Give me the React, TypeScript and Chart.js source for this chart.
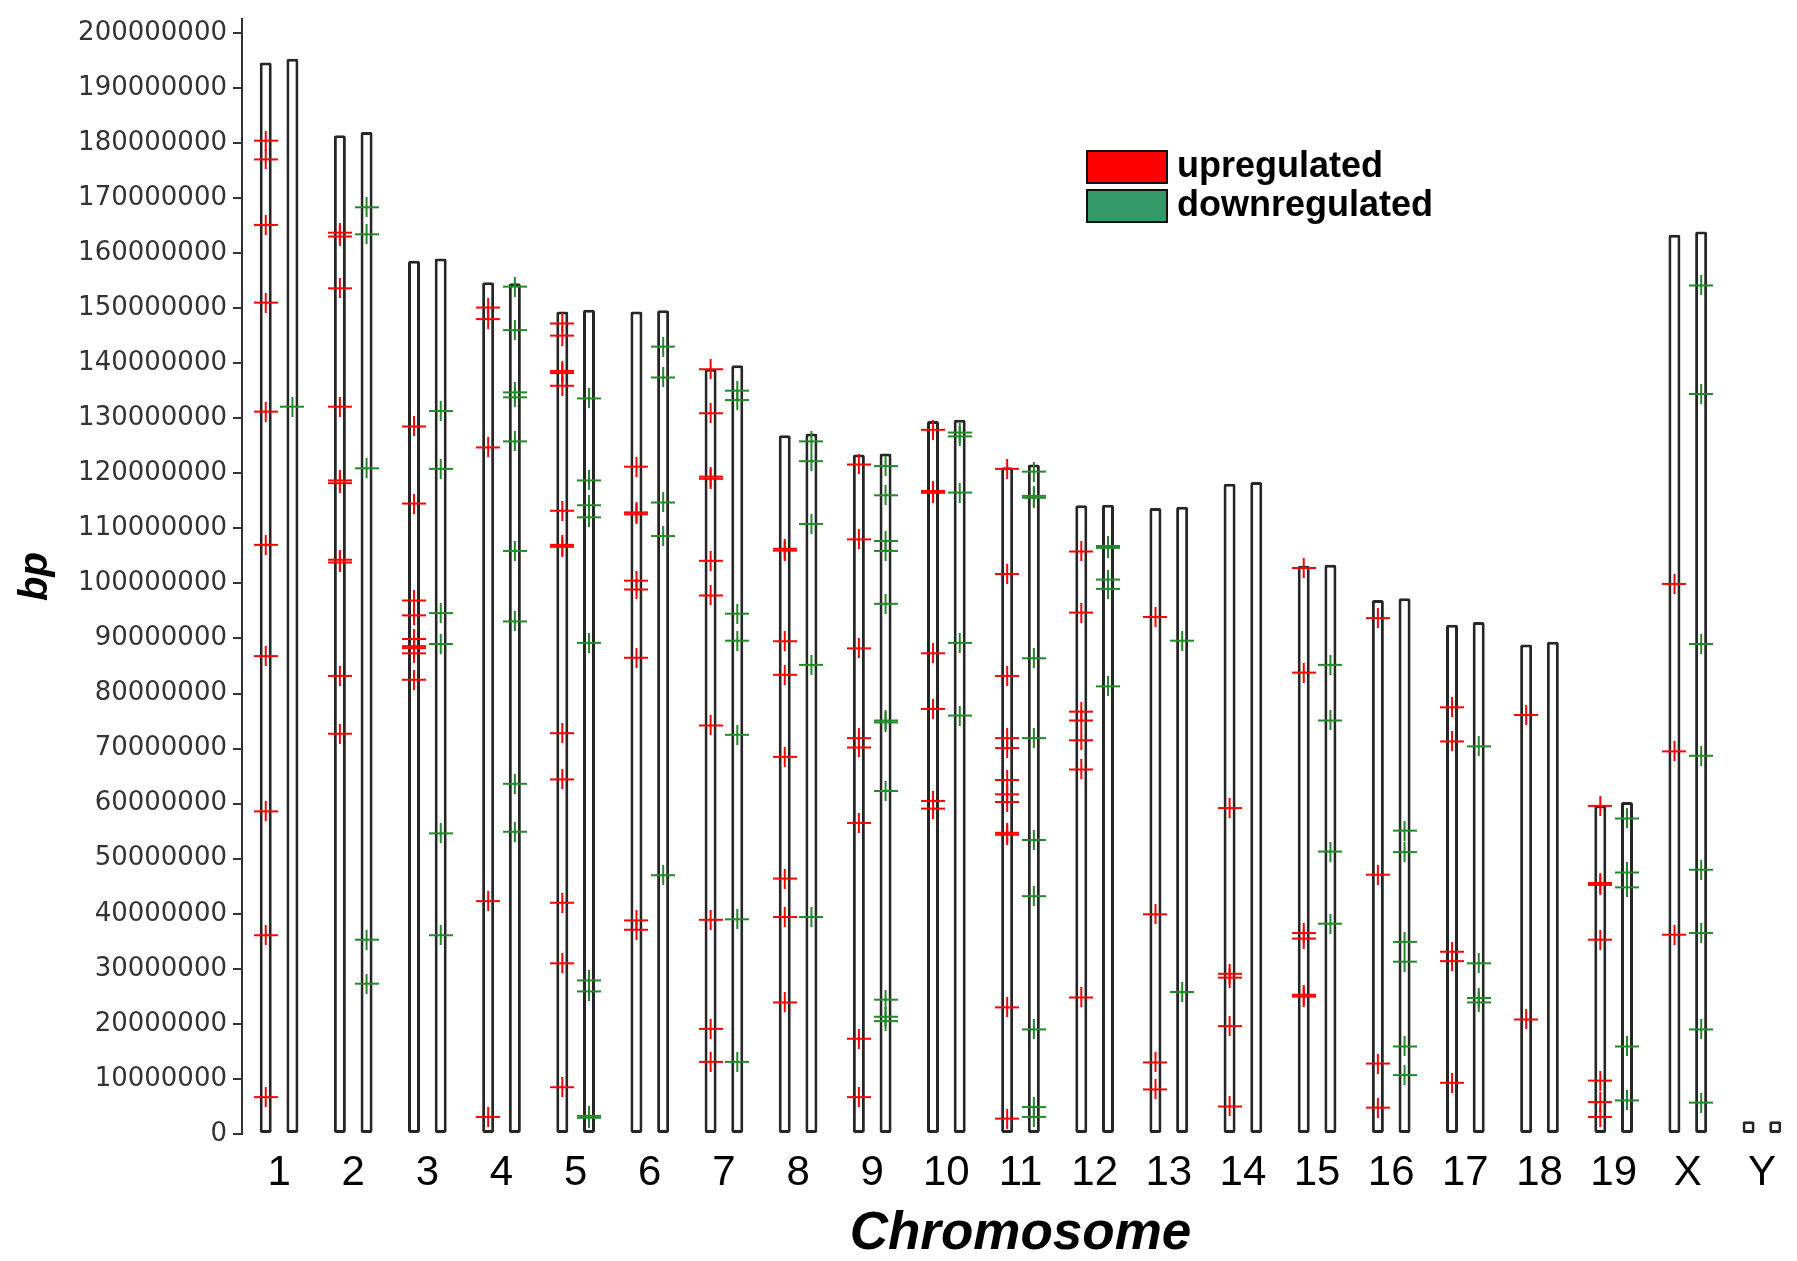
import React, { useEffect, useRef } from 'react';
import { Chart, registerables } from 'chart.js';

Chart.register(...registerables);

// ---------------- data ----------------
const chromosomes = ['1', '2', '3', '4', '5', '6', '7', '8', '9', '10', '11', '12', '13', '14', '15', '16', '17', '18', '19', 'X', 'Y'];

// chromosome lengths (Mb) drawn as the left (upregulated) and right (downregulated) bars
const upLengthMb = [194.6, 181.4, 158.6, 154.7, 149.4, 149.4, 139.0, 126.9, 123.4, 129.5, 121.1, 114.2, 113.7, 118.1, 103.2, 97.0, 92.5, 88.9, 59.7, 163.3, 2.3];
const downLengthMb = [195.3, 182.0, 159.0, 154.5, 149.7, 149.6, 139.6, 127.2, 123.6, 129.7, 121.6, 114.3, 113.9, 118.4, 103.4, 97.3, 93.0, 89.4, 60.3, 163.9, 2.3];

// gene positions (Mb), one list per chromosome
const upMarkersMb: number[][] = [
  [180.4, 177.0, 165.1, 151.0, 131.2, 107.0, 86.8, 58.6, 36.1, 6.7],
  [163.7, 163.0, 153.6, 132.1, 118.7, 118.2, 104.3, 103.8, 83.2, 72.7],
  [128.5, 114.5, 96.9, 94.2, 89.9, 88.6, 88.25, 87.3, 82.5],
  [150.1, 148.0, 124.7, 42.3, 3.1],
  [147.2, 145.0, 138.6, 138.2, 135.9, 113.2, 107.0, 106.65, 72.8, 64.4, 42.0, 31.0, 8.5],
  [121.2, 112.9, 112.55, 100.5, 98.9, 86.5, 38.8, 37.1],
  [138.9, 130.9, 119.4, 119.0, 104.1, 97.8, 74.2, 38.9, 19.1, 13.1],
  [106.3, 105.95, 89.5, 83.4, 68.5, 46.4, 39.4, 23.9],
  [121.6, 108.0, 88.2, 71.9, 70.2, 56.5, 17.3, 6.7],
  [127.9, 116.8, 116.45, 87.3, 77.2, 60.5, 59.1],
  [120.8, 101.7, 83.2, 71.9, 70.1, 64.3, 61.7, 60.3, 54.7, 54.35, 23.0, 2.8],
  [105.8, 94.7, 76.7, 75.1, 71.5, 66.2, 24.8],
  [93.9, 39.9, 13.0, 8.1],
  [59.2, 29.1, 28.4, 19.6, 5.0],
  [102.8, 83.8, 36.5, 35.5, 25.3, 24.95],
  [93.7, 47.1, 12.8, 4.8],
  [77.5, 71.3, 33.1, 31.4, 9.3],
  [76.1, 20.8],
  [59.6, 45.6, 45.25, 35.3, 9.7, 5.8, 3.1],
  [99.9, 69.5, 36.2],
  [],
];

const downMarkersMb: number[][] = [
  [132.1],
  [168.3, 163.4, 120.9, 35.3, 27.3],
  [131.3, 120.8, 94.6, 89.0, 54.6, 36.1],
  [153.9, 146.0, 134.7, 133.8, 125.8, 105.9, 93.1, 63.6, 54.9],
  [133.6, 118.7, 114.2, 112.0, 89.2, 27.9, 25.9, 3.3, 2.95],
  [143.0, 137.4, 114.7, 108.6, 47.0],
  [135.0, 133.3, 94.5, 89.6, 72.5, 39.0, 13.1],
  [125.8, 122.2, 110.8, 85.2, 39.4],
  [121.3, 116.0, 107.7, 105.9, 96.3, 75.1, 74.75, 62.3, 24.4, 21.3, 20.5],
  [127.4, 126.7, 116.5, 89.2, 76.0],
  [120.3, 115.9, 115.55, 86.4, 71.9, 53.4, 43.2, 19.0, 4.9, 3.1],
  [106.8, 106.45, 100.7, 99.0, 81.3],
  [89.6, 25.8],
  [],
  [85.2, 75.1, 51.3, 38.2],
  [55.1, 51.2, 34.9, 31.3, 15.9, 10.7],
  [70.4, 31.0, 24.7, 23.9],
  [],
  [57.3, 47.5, 44.8, 15.9, 6.1],
  [154.1, 134.4, 89.0, 68.7, 48.0, 36.5, 19.0, 5.7],
  [],
];

// y-axis ticks (bp)
const yTickValues = [
  0, 10000000, 20000000, 30000000, 40000000, 50000000, 60000000, 70000000, 80000000, 90000000, 100000000,
  110000000, 120000000, 130000000, 140000000, 150000000, 160000000, 170000000, 180000000, 190000000, 200000000,
];

const seriesNames = ['upregulated', 'downregulated'];
const markerColors = ['#ff0000', '#1f8a26'];
const legendColors = ['#ff0000', '#339966'];

const MB = 1000000;
const Y_MAX_BP = 202500000;

// ---------------- layout / style ----------------
const CATEGORY_PCT = 0.72;
const PAIR_OFFSET = CATEGORY_PCT / 4; // centre of each bar of a pair, in category units

function makeCross(color: string): HTMLCanvasElement {
  const c = document.createElement('canvas');
  c.width = 24;
  c.height = 20;
  const g = c.getContext('2d');
  if (g) {
    g.fillStyle = color;
    g.fillRect(0, 9, 24, 2);
    g.fillRect(11, 0, 2, 20);
  }
  return c;
}

export default function App() {
  const ref = useRef<HTMLCanvasElement>(null);

  useEffect(() => {
    const canvas = ref.current;
    if (!canvas) return;

    const upPoints = upMarkersMb.flatMap((vals, i) => vals.map((v) => ({ x: i - PAIR_OFFSET, y: v * MB })));
    const downPoints = downMarkersMb.flatMap((vals, i) => vals.map((v) => ({ x: i + PAIR_OFFSET, y: v * MB })));

    const legendPlugin = {
      id: 'boxLegend',
      afterDraw(chart: any) {
        const ctx = chart.ctx;
        ctx.save();
        const left = 1087;
        const top0 = 151;
        const boxW = 80;
        const boxH = 32;
        const rowGap = 39;
        seriesNames.forEach((name, k) => {
          const top = top0 + k * rowGap;
          ctx.fillStyle = legendColors[k];
          ctx.fillRect(left, top, boxW, boxH);
          ctx.lineWidth = 2;
          ctx.strokeStyle = '#111';
          ctx.strokeRect(left, top, boxW, boxH);
          ctx.fillStyle = '#000';
          ctx.font = 'bold 36px "Liberation Sans", Arial, sans-serif';
          ctx.textAlign = 'left';
          ctx.textBaseline = 'alphabetic';
          ctx.fillText(name, left + boxW + 10, top + 26);
        });
        ctx.restore();
      },
    };

    const barCommon = {
      type: 'bar',
      backgroundColor: '#ffffff',
      borderColor: '#262626',
      borderWidth: 3,
      borderSkipped: false,
      borderRadius: 2,
      categoryPercentage: CATEGORY_PCT,
      barPercentage: 0.45,
      grouped: true,
      xAxisID: 'x',
      yAxisID: 'y',
      order: 2,
    };

    const markerCommon = {
      type: 'scatter',
      parsing: false,
      showLine: false,
      pointRadius: 10,
      xAxisID: 'x',
      yAxisID: 'y',
      order: 1,
    };

    const chart = new Chart(canvas, {
      type: 'bar',
      data: {
        labels: chromosomes,
        datasets: [
          { ...barCommon, label: 'chromosome (up)', data: upLengthMb.map((v) => v * MB) },
          { ...barCommon, label: 'chromosome (down)', data: downLengthMb.map((v) => v * MB) },
          {
            ...markerCommon,
            label: seriesNames[0],
            data: upPoints,
            pointStyle: makeCross(markerColors[0]),
            borderColor: markerColors[0],
            backgroundColor: markerColors[0],
          },
          {
            ...markerCommon,
            label: seriesNames[1],
            data: downPoints,
            pointStyle: makeCross(markerColors[1]),
            borderColor: markerColors[1],
            backgroundColor: markerColors[1],
          },
        ] as any,
      },
      options: {
        responsive: false,
        animation: false,
        devicePixelRatio: 1,
        events: [],
        layout: { padding: { top: 13, left: 0, right: 4, bottom: 0 } },
        plugins: {
          legend: { display: false },
          tooltip: { enabled: false },
        },
        scales: {
          x: {
            type: 'category',
            offset: true,
            grid: { display: false, drawTicks: false },
            border: { display: false },
            ticks: {
              autoSkip: false,
              maxRotation: 0,
              padding: 14,
              color: '#000',
              font: { family: '"Liberation Sans", Arial, sans-serif', size: 42 },
            },
            title: {
              display: true,
              text: 'Chromosome',
              color: '#000',
              font: { family: '"Liberation Sans", Arial, sans-serif', size: 53, weight: 'bold', style: 'italic', lineHeight: 1 },
              padding: { top: 10, bottom: 0 },
            },
            afterFit: (s: any) => {
              s.height = 127;
            },
          },
          y: {
            type: 'linear',
            min: 0,
            max: Y_MAX_BP,
            afterBuildTicks: (s: any) => {
              s.ticks = yTickValues.map((v) => ({ value: v }));
            },
            ticks: {
              autoSkip: false,
              padding: 6,
              color: '#333',
              font: { family: '"DejaVu Sans", sans-serif', size: 26, lineHeight: 1 },
              callback: (v: any) => String(Math.round(Number(v))),
            },
            grid: {
              display: true,
              drawOnChartArea: false,
              drawTicks: true,
              tickLength: 9,
              color: '#333',
              lineWidth: 2,
            },
            border: { display: true, color: '#333', width: 2 },
            title: {
              display: true,
              text: 'bp',
              color: '#000',
              font: { family: '"Liberation Sans", Arial, sans-serif', size: 40, weight: 'bold', style: 'italic', lineHeight: 1 },
              padding: { top: 16, bottom: 0 },
            },
            afterFit: (s: any) => {
              s.width = 242;
            },
          },
        } as any,
      },
      plugins: [legendPlugin],
    } as any);

    return () => chart.destroy();
  }, []);

  return (
    <div
      style={{
        position: 'fixed',
        left: 0,
        top: 0,
        width: 1797,
        height: 1261,
        overflow: 'hidden',
        background: '#ffffff',
      }}
    >
      <canvas ref={ref} width={1810} height={1261} style={{ display: 'block' }} />
    </div>
  );
}
